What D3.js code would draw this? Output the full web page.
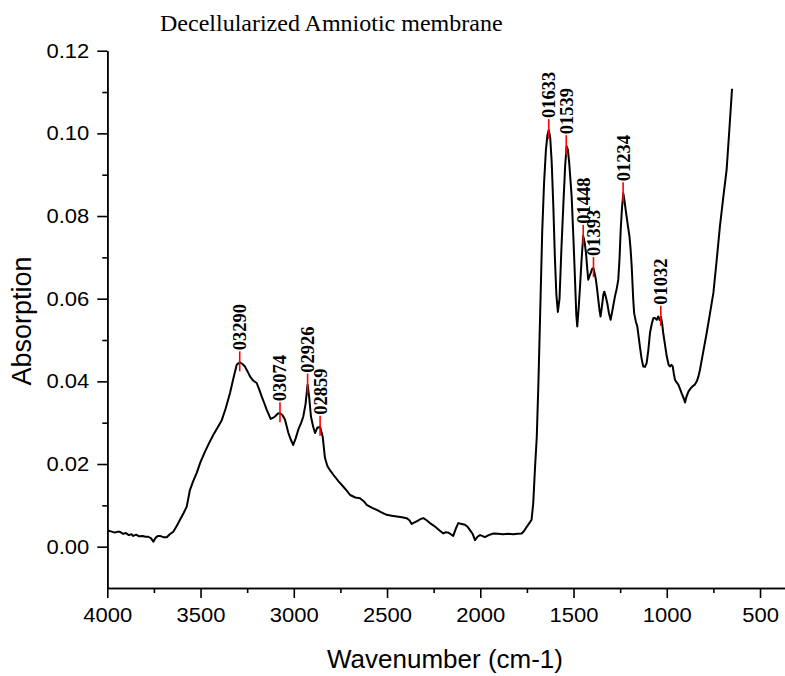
<!DOCTYPE html>
<html>
<head>
<meta charset="utf-8">
<script src="https://cdn.jsdelivr.net/npm/d3@7"></script>
<style>
  body { margin: 0; background: #fff; }
  svg { display: block; }
</style>
</head>
<body>
<script>
// spectrum (wavenumber cm-1, absorption)
var wavenumber = [4000,3980,3960,3945,3932,3915,3900,3885,3870,3861,3845,3830,3810,3795,3780,3765,3753,3740,3728,3717,3700,3681,3665,3646,3628,3610,3590,3574,3557,3540,3521,3500,3476,3455,3432,3410,3387,3365,3342,3325,3306,3290,3275,3262,3248,3235,3218,3199,3185,3172,3158,3145,3124,3110,3101,3085,3074,3060,3047,3029,3015,3003,2990,2976,2960,2949,2937,2926,2917,2908,2896,2886,2874,2859,2845,2833,2820,2806,2788,2760,2734,2715,2698,2670,2645,2625,2609,2580,2555,2530,2502,2475,2448,2420,2395,2380,2368,2355,2341,2320,2305,2288,2270,2250,2234,2215,2198,2185,2171,2158,2145,2130,2118,2100,2082,2068,2055,2040,2028,2015,2001,1990,1975,1955,1930,1905,1877,1850,1823,1800,1778,1765,1751,1735,1725,1716,1707,1697,1688,1678,1668,1658,1648,1640,1633,1625,1617,1608,1600,1592,1584,1575,1565,1555,1545,1537,1530,1523,1510,1500,1492,1485,1480,1472,1465,1456,1448,1440,1433,1426,1421,1414,1408,1400,1393,1386,1380,1374,1367,1360,1355,1348,1340,1335,1327,1319,1310,1301,1290,1278,1268,1260,1253,1247,1240,1233,1226,1218,1208,1200,1194,1188,1180,1175,1166,1158,1150,1144,1135,1126,1117,1108,1099,1090,1080,1072,1063,1054,1046,1038,1031,1025,1019,1010,1000,990,983,975,968,962,956,948,938,930,920,910,902,895,884,872,861,850,839,830,822,805,786,768,750,733,715,697,679,665,650];
var absorption = [0.0039,0.0037,0.0034,0.0036,0.0036,0.0031,0.0033,0.0028,0.0030,0.0026,0.0029,0.0025,0.0026,0.0024,0.0024,0.0020,0.0012,0.0022,0.0026,0.0026,0.0023,0.0023,0.0030,0.0036,0.0050,0.0065,0.0082,0.0097,0.0137,0.0158,0.0178,0.0205,0.0230,0.0250,0.0270,0.0287,0.0305,0.0335,0.0372,0.0405,0.0440,0.0446,0.0442,0.0436,0.0424,0.0412,0.0402,0.0396,0.0380,0.0363,0.0347,0.0331,0.0309,0.0312,0.0315,0.0322,0.0323,0.0318,0.0307,0.0275,0.0258,0.0246,0.0262,0.0283,0.0300,0.0315,0.0345,0.0392,0.0360,0.0315,0.0290,0.0275,0.0288,0.0290,0.0266,0.0215,0.0195,0.0185,0.0174,0.0158,0.0145,0.0135,0.0125,0.0119,0.0117,0.0110,0.0101,0.0094,0.0089,0.0083,0.0077,0.0075,0.0073,0.0071,0.0069,0.0064,0.0055,0.0058,0.0061,0.0067,0.0069,0.0064,0.0057,0.0051,0.0045,0.0038,0.0032,0.0035,0.0034,0.0030,0.0026,0.0045,0.0057,0.0055,0.0053,0.0048,0.0040,0.0030,0.0016,0.0024,0.0028,0.0026,0.0023,0.0028,0.0032,0.0031,0.0030,0.0031,0.0030,0.0031,0.0032,0.0038,0.0048,0.0058,0.0065,0.0105,0.0186,0.0266,0.0400,0.0580,0.0760,0.0880,0.0960,0.0995,0.1008,0.0990,0.0930,0.0820,0.0700,0.0610,0.0568,0.0600,0.0720,0.0823,0.0920,0.0969,0.0960,0.0928,0.0847,0.0740,0.0646,0.0560,0.0533,0.0580,0.0630,0.0700,0.0752,0.0735,0.0710,0.0670,0.0646,0.0655,0.0662,0.0672,0.0674,0.0660,0.0646,0.0625,0.0597,0.0570,0.0557,0.0580,0.0610,0.0617,0.0605,0.0589,0.0565,0.0549,0.0575,0.0605,0.0625,0.0646,0.0700,0.0767,0.0820,0.0855,0.0835,0.0807,0.0775,0.0751,0.0720,0.0678,0.0600,0.0565,0.0545,0.0533,0.0505,0.0484,0.0455,0.0436,0.0435,0.0444,0.0475,0.0517,0.0540,0.0553,0.0553,0.0549,0.0557,0.0548,0.0556,0.0540,0.0517,0.0490,0.0460,0.0440,0.0436,0.0440,0.0436,0.0418,0.0404,0.0398,0.0392,0.0383,0.0371,0.0360,0.0349,0.0362,0.0375,0.0383,0.0388,0.0392,0.0400,0.0412,0.0428,0.0470,0.0517,0.0565,0.0614,0.0690,0.0775,0.0845,0.0912,0.1005,0.1108];

// labelled peaks
var peakWave = [3290,3074,2926,2859,1633,1539,1448,1393,1234,1032];
var peakAbs = [0.0446,0.0323,0.0392,0.0290,0.1008,0.0969,0.0752,0.0674,0.0855,0.0556];
var peakLabels = ["03290","03074","02926","02859","01633","01539","01448","01393","01234","01032"];

// tick labels
var xTicks = [4000,3500,3000,2500,2000,1500,1000,500];
var yTicks = [0.00,0.02,0.04,0.06,0.08,0.10,0.12];

var width = 785,
    height = 676;

var svg = d3.select("body")
    .append("svg")
    .attr("width", width)
    .attr("height", height);

var x = d3.scaleLinear()
    .domain([4000, 366])
    .range([107.3, 785]);

var y = d3.scaleLinear()
    .domain([-0.01, 0.12])
    .range([588, 50.7]);

//x axis, major + minor ticks
var xAxis = d3.axisBottom(x)
    .tickValues(xTicks)
    .tickSize(10)
    .tickSizeOuter(0)
    .tickFormat(d3.format("d"));
var xMinor = d3.axisBottom(x)
    .tickValues(d3.range(3750, 400, -500))
    .tickSize(5)
    .tickSizeOuter(0)
    .tickFormat("");

var yAxis = d3.axisLeft(y)
    .tickValues(yTicks)
    .tickSize(10)
    .tickSizeOuter(0)
    .tickFormat(d3.format(".2f"));
var yMinor = d3.axisLeft(y)
    .tickValues([0.01,0.03,0.05,0.07,0.09,0.11])
    .tickSize(5)
    .tickSizeOuter(0)
    .tickFormat("");

function styleAxis(g){
    g.selectAll("path, line").attr("stroke", "#000").attr("stroke-width", 1.6);
    g.selectAll("text")
        .attr("fill", "#000")
        .style("font-family", "'Liberation Sans', Arial, sans-serif")
        .style("font-size", "20px");
}

//tick labels in the picture are a bit wider than the font
function widen(sel){
    sel.each(function(){
        var len = this.getComputedTextLength();
        d3.select(this)
            .attr("textLength", len * 1.1)
            .attr("lengthAdjust", "spacingAndGlyphs");
    });
}

svg.append("g").attr("transform", "translate(0," + y(-0.01) + ")").call(xMinor).call(styleAxis);
svg.append("g").attr("transform", "translate(0," + y(-0.01) + ")").call(xAxis).call(styleAxis)
    .selectAll("text").attr("dy", "1.05em").call(widen);
svg.append("g").attr("transform", "translate(" + x(4000) + ",0)").call(yMinor).call(styleAxis);
svg.append("g").attr("transform", "translate(" + x(4000) + ",0)").call(yAxis).call(styleAxis)
    .selectAll("text").attr("dx", "-0.25em").call(widen);

//the spectrum
var pts = wavenumber.map(function(w, i){ return [w, absorption[i]]; });
var line = d3.line()
    .x(function(d){ return x(d[0]); })
    .y(function(d){ return y(d[1]); });

svg.append("path")
    .datum(pts)
    .attr("fill", "none")
    .attr("stroke", "#000")
    .attr("stroke-width", 2)
    .attr("stroke-linejoin", "round")
    .attr("d", line);

//peak markers + labels
var peaks = svg.selectAll(".peak")
    .data(peakWave)
    .enter()
    .append("g")
    .attr("class", "peak");

peaks.append("line")
    .attr("x1", function(d){ return x(d); })
    .attr("x2", function(d){ return x(d); })
    .attr("y1", function(d, i){ return y(peakAbs[i]) - 11; })
    .attr("y2", function(d, i){ return y(peakAbs[i]) + 9; })
    .attr("stroke", "#ff0000")
    .attr("stroke-width", 1.6);

peaks.append("text")
    .attr("transform", function(d, i){
        return "translate(" + x(d) + "," + (y(peakAbs[i]) - 12) + ") rotate(-90)";
    })
    .attr("dy", "0.35em")
    .style("font-family", "'Liberation Serif', 'Times New Roman', serif")
    .style("font-weight", "bold")
    .style("font-size", "18.5px")
    .text(function(d, i){ return peakLabels[i]; });

//titles
svg.append("text")
    .attr("x", 160)
    .attr("y", 31)
    .style("font-family", "'Liberation Serif', 'Times New Roman', serif")
    .style("font-size", "24px")
    .text("Decellularized Amniotic membrane");

svg.append("text")
    .attr("transform", "translate(31," + 321 + ") rotate(-90)")
    .attr("text-anchor", "middle")
    .style("font-family", "'Liberation Sans', Arial, sans-serif")
    .style("font-size", "27px")
    .text("Absorption");

svg.append("text")
    .attr("x", 445)
    .attr("y", 668)
    .attr("text-anchor", "middle")
    .style("font-family", "'Liberation Sans', Arial, sans-serif")
    .style("font-size", "26px")
    .text("Wavenumber (cm-1)");
</script>
</body>
</html>
